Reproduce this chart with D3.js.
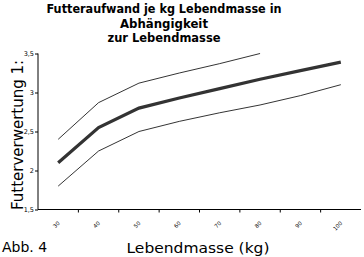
<!DOCTYPE html>
<html><head><meta charset="utf-8">
<script src="https://cdn.jsdelivr.net/npm/d3@7"></script>
<style>body{margin:0;background:#fff}svg{display:block}text{font-family:"DejaVu Sans",sans-serif}</style>
</head><body>
<svg id="c" width="364" height="257"></svg>
<script>
const categories = ["30","40","50","60","70","80","90","100"];
const mittel = [2.1, 2.55, 2.8, 2.93, 3.05, 3.17, 3.28, 3.39];
const oben   = [2.4, 2.87, 3.12, 3.25, 3.37, 3.5, null, null];
const unten  = [1.8, 2.25, 2.5, 2.63, 2.74, 2.84, 2.96, 3.1];
const yTicks = [1.5, 2, 2.5, 3, 3.5];
const yTickLabels = ["1,5","2","2,5","3","3,5"];
const titleLines = ["Futteraufwand je kg Lebendmasse in","Abhängigkeit","zur Lebendmasse"];
const titleWidths = [235, 88, 113];

const svg = d3.select("#c");
const x = d3.scaleBand().domain(categories).range([38, 361]);
const y = d3.scaleLinear().domain([1.5, 3.5]).range([209.5, 53.5]);

// title
svg.append("g").selectAll("text").data(titleLines).join("text")
  .attr("x", 164).attr("y", (d,i) => 13 + i*14.5)
  .attr("text-anchor","middle").attr("font-size", 12).attr("font-weight","bold")
  .attr("textLength", (d,i) => titleWidths[i]).attr("lengthAdjust","spacingAndGlyphs")
  .text(d => d);

// y axis
const yAxis = svg.append("g").attr("transform","translate(38,0)")
  .call(d3.axisLeft(y).tickValues(yTicks).tickSize(3).tickFormat((d,i) => yTickLabels[i]));
yAxis.select(".domain").attr("stroke","#000").attr("d","M0,53.5V209.5");
yAxis.selectAll("text").attr("font-size",6.5).attr("x",-4).attr("font-family","DejaVu Sans");

// x axis
const xAxis = svg.append("g").attr("transform","translate(0,209.5)")
  .call(d3.axisBottom(x).tickSize(0).tickFormat(d => d));
xAxis.select(".domain").attr("stroke","#000").attr("d","M38,0H361");
xAxis.selectAll("text").attr("font-size",5.5).attr("font-family","DejaVu Sans")
  .attr("text-anchor","end").attr("transform","translate(2,14) rotate(-45)").attr("dy",0).attr("y",0);
// boundary tick marks
svg.append("g").selectAll("line").data(categories.slice(1)).join("line")
  .attr("x1", d => x(d)).attr("x2", d => x(d)).attr("y1",209.5).attr("y2",212.5)
  .attr("stroke","#000");

const line = d3.line().defined(d => d[1] != null)
  .x(d => x(d[0]) + x.bandwidth()/2).y(d => y(d[1]));
const toPts = arr => categories.map((c,i) => [c, arr[i]]);

svg.append("path").attr("d", line(toPts(oben))).attr("fill","none").attr("stroke","#000").attr("stroke-width",0.8);
svg.append("path").attr("d", line(toPts(unten))).attr("fill","none").attr("stroke","#000").attr("stroke-width",0.8);
svg.append("path").attr("d", line(toPts(mittel))).attr("fill","none").attr("stroke","#333").attr("stroke-width",3.2);

// axis titles
svg.append("text").attr("transform","translate(23,135) rotate(-90)")
  .attr("text-anchor","middle").attr("font-size",16)
  .attr("textLength",150).attr("lengthAdjust","spacingAndGlyphs").text("Futterverwertung 1:");
svg.append("text").attr("x",198).attr("y",253).attr("text-anchor","middle")
  .attr("font-size",14).attr("textLength",143).attr("lengthAdjust","spacingAndGlyphs").text("Lebendmasse (kg)");
svg.append("text").attr("x",2).attr("y",252).attr("font-size",14).text("Abb. 4");
</script>
</body></html>
